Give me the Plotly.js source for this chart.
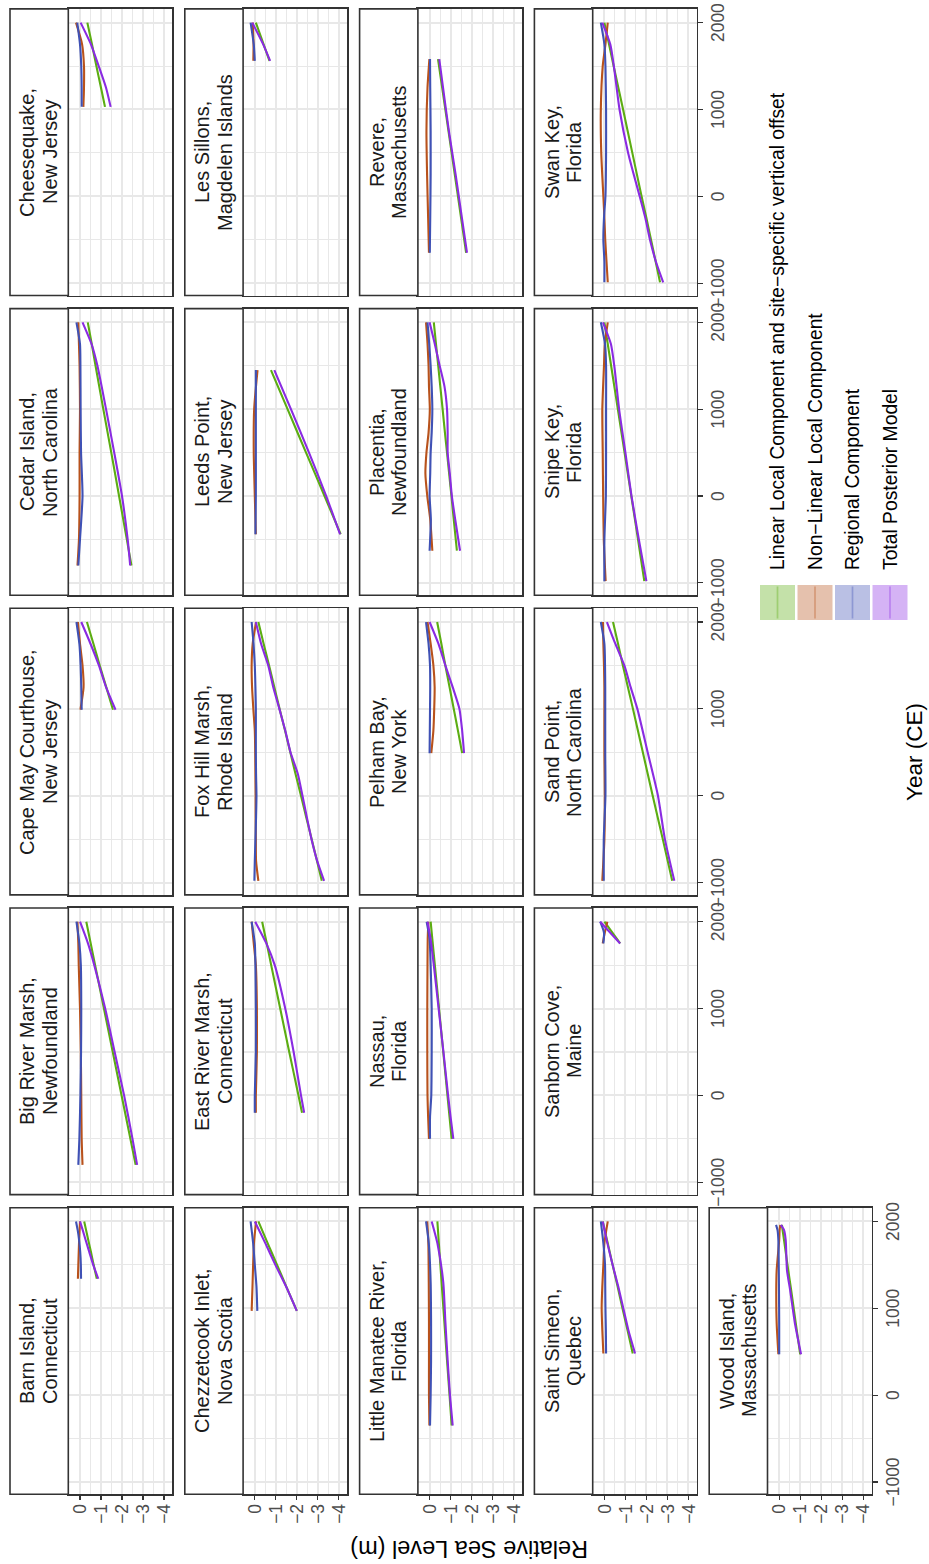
<!DOCTYPE html>
<html>
<head>
<meta charset="utf-8">
<script src="https://cdn.plot.ly/plotly-3.0.1.min.js"></script>
<style>
  html, body { margin: 0; padding: 0; background: #ffffff; overflow: hidden; width: 929px; height: 1564px; }
  /* the figure is laid out landscape and turned a quarter turn counter-clockwise */
  #wrap { position: absolute; left: 0; top: 0; width: 1564px; height: 929px;
          transform-origin: 0 0; transform: translate(0, 1564px) rotate(-90deg); }
</style>
</head>
<body>
<div id="wrap"></div>
<script>
// ---- data: one entry per site, in facet order ----
const siteNames = [
  'Barn Island, Connecticut', 'Big River Marsh, Newfoundland', 'Cape May Courthouse, New Jersey',
  'Cedar Island, North Carolina', 'Cheesequake, New Jersey', 'Chezzetcook Inlet, Nova Scotia',
  'East River Marsh, Connecticut', 'Fox Hill Marsh, Rhode Island', 'Leeds Point, New Jersey',
  'Les Sillons, Magdelen Islands', 'Little Manatee River, Florida', 'Nassau, Florida',
  'Pelham Bay, New York', 'Placentia, Newfoundland', 'Revere, Massachusetts',
  'Saint Simeon, Quebec', 'Sanborn Cove, Maine', 'Sand Point, North Carolina',
  'Snipe Key, Florida', 'Swan Key, Florida', 'Wood Island, Massachusetts'
];

const siteYears = [
  [1340, 1500, 1650, 1800, 1900, 2000],
  [-800, -500, 0, 500, 1000, 1500, 1750, 2000],
  [990, 1250, 1500, 1750, 2000],
  [-800, -500, 0, 500, 1000, 1500, 1750, 2000],
  [1030, 1250, 1500, 1750, 2000],
  [970, 1250, 1500, 1750, 2000],
  [-200, 0, 500, 1000, 1500, 1750, 2000],
  [-980, -750, -500, -250, 0, 250, 500, 750, 1000, 1250, 1500, 1750, 2000],
  [-440, 0, 500, 1000, 1450],
  [1560, 1750, 2000],
  [-350, 0, 400, 850, 1300, 1750, 2000],
  [-500, -250, 0, 500, 1000, 1500, 1800, 2000],
  [490, 750, 1000, 1250, 1500, 1750, 2000],
  [-630, -270, 0, 260, 500, 730, 1000, 1260, 1500, 1760, 2000],
  [-650, -250, 250, 750, 1250, 1580],
  [480, 750, 1000, 1250, 1500, 1750, 2000],
  [1750, 1875, 2000],
  [-980, -500, 0, 500, 1000, 1250, 1500, 1750, 2000],
  [-980, -500, 0, 500, 1000, 1500, 1750, 2000],
  [-990, -750, -500, -250, 0, 500, 1000, 1500, 1750, 2000],
  [470, 825, 1210, 1440, 1785, 1900, 1960]
];

// Linear Local Component and site-specific vertical offset (m)
const linearLocal = [
  [-0.80, -0.65, -0.52, -0.38, -0.29, -0.20],
  [-2.65, -2.40, -1.98, -1.56, -1.14, -0.72, -0.51, -0.30],
  [-1.57, -1.25, -0.94, -0.64, -0.33],
  [-2.45, -2.23, -1.86, -1.49, -1.11, -0.74, -0.56, -0.37],
  [-1.19, -1.00, -0.78, -0.57, -0.35],
  [-2.00, -1.50, -1.06, -0.61, -0.17],
  [-2.25, -2.08, -1.64, -1.21, -0.78, -0.57, -0.35],
  [-3.19, -2.96, -2.71, -2.45, -2.20, -1.94, -1.69, -1.44, -1.18, -0.93, -0.68, -0.42, -0.17],
  [-4.09, -3.32, -2.44, -1.56, -0.77],
  [-0.70, -0.42, -0.05],
  [-1.05, -0.95, -0.83, -0.70, -0.57, -0.44, -0.37],
  [-1.05, -0.95, -0.85, -0.65, -0.45, -0.25, -0.13, -0.05],
  [-1.55, -1.35, -1.15, -0.95, -0.75, -0.56, -0.36],
  [-1.30, -1.15, -1.04, -0.93, -0.83, -0.73, -0.62, -0.51, -0.41, -0.30, -0.20],
  [-1.74, -1.50, -1.20, -0.90, -0.60, -0.40],
  [-1.35, -1.10, -0.86, -0.63, -0.39, -0.16, 0.08],
  [-0.75, -0.38, 0.00],
  [-3.23, -2.78, -2.30, -1.83, -1.36, -1.12, -0.88, -0.65, -0.41],
  [-1.90, -1.60, -1.28, -0.96, -0.64, -0.32, -0.16, 0.00],
  [-2.65, -2.44, -2.22, -2.00, -1.77, -1.33, -0.89, -0.44, -0.22, 0.00],
  [-1.00, -0.79, -0.57, -0.43, -0.23, -0.16, -0.13]
];

// Non-Linear Local Component (m)
const nonLinearLocal = [
  [0.10, 0.08, 0.06, 0.04, 0.02, 0.00],
  [-0.12, -0.08, -0.06, -0.04, 0.00, 0.06, 0.08, 0.12],
  [-0.02, -0.17, -0.12, 0.00, 0.10],
  [0.12, 0.05, 0.02, 0.02, 0.00, 0.02, 0.05, 0.08],
  [-0.16, -0.19, -0.19, -0.10, 0.19],
  [0.15, 0.11, 0.08, 0.04, -0.06],
  [-0.05, -0.05, -0.10, -0.10, -0.05, 0.05, 0.15],
  [-0.17, -0.06, -0.05, -0.04, -0.04, -0.03, -0.02, 0.00, 0.07, 0.13, 0.15, 0.10, -0.06],
  [-0.05, 0.00, 0.05, 0.03, -0.13],
  [0.07, 0.06, 0.10],
  [0.01, 0.03, 0.03, 0.03, 0.04, 0.06, 0.11],
  [0.03, 0.07, 0.10, 0.11, 0.11, 0.10, 0.09, 0.06],
  [-0.08, -0.18, -0.22, -0.24, -0.18, -0.05, 0.10],
  [-0.13, -0.03, 0.11, 0.20, 0.15, 0.05, -0.01, 0.03, 0.05, 0.10, 0.17],
  [0.03, 0.07, 0.12, 0.15, 0.10, 0.01],
  [0.05, 0.10, 0.13, 0.10, 0.05, 0.00, -0.16],
  [0.08, -0.02, -0.14],
  [0.10, 0.00, -0.02, 0.00, 0.00, 0.00, 0.02, 0.05, 0.07],
  [-0.06, 0.03, 0.06, 0.08, 0.10, 0.02, -0.02, -0.16],
  [-0.16, -0.10, -0.04, 0.00, 0.05, 0.15, 0.17, 0.08, -0.05, -0.16],
  [0.04, 0.12, 0.14, 0.12, 0.00, -0.02, -0.05]
];

// Regional Component (m)
const regionalComp = [
  [-0.05, -0.04, -0.01, 0.05, 0.11, 0.19],
  [0.08, 0.03, -0.02, -0.05, -0.06, -0.04, 0.03, 0.17],
  [-0.08, -0.06, -0.03, 0.03, 0.17],
  [0.08, 0.00, -0.12, -0.05, -0.03, -0.02, 0.00, 0.17],
  [-0.08, -0.08, -0.06, 0.00, 0.13],
  [-0.12, -0.08, 0.00, 0.08, 0.20],
  [0.00, 0.00, -0.05, -0.05, -0.03, 0.00, 0.15],
  [0.02, 0.00, -0.03, -0.06, -0.08, -0.06, -0.05, -0.05, -0.05, -0.03, 0.00, 0.06, 0.15],
  [-0.03, -0.05, -0.05, -0.05, -0.05],
  [0.00, 0.05, 0.20],
  [-0.02, -0.05, -0.07, -0.07, -0.05, 0.04, 0.17],
  [-0.02, -0.02, -0.08, -0.10, -0.10, -0.05, 0.00, 0.14],
  [0.00, -0.01, -0.02, -0.03, -0.02, 0.05, 0.17],
  [0.00, -0.06, 0.00, -0.03, -0.05, -0.10, -0.13, -0.10, -0.05, 0.02, 0.10],
  [-0.01, -0.03, -0.05, -0.05, -0.03, -0.02],
  [-0.08, -0.07, -0.05, -0.04, -0.03, 0.05, 0.17],
  [0.05, 0.02, 0.20],
  [0.03, 0.03, -0.05, -0.04, -0.04, -0.04, -0.03, 0.00, 0.17],
  [0.00, 0.00, -0.07, -0.08, -0.08, -0.08, -0.03, 0.17],
  [0.00, 0.00, 0.05, 0.02, -0.05, -0.08, -0.08, -0.05, 0.00, 0.17],
  [0.00, 0.00, 0.01, 0.02, 0.04, 0.08, 0.15]
];

// Total Posterior Model (m)
const totalPosterior = [
  [-0.87, -0.63, -0.44, -0.25, -0.13, 0.00],
  [-2.72, -2.50, -2.10, -1.65, -1.20, -0.68, -0.38, 0.00],
  [-1.69, -1.24, -0.90, -0.50, -0.06],
  [-2.39, -2.27, -2.00, -1.63, -1.24, -0.83, -0.55, -0.12],
  [-1.46, -1.24, -0.89, -0.52, -0.03],
  [-2.00, -1.49, -0.98, -0.50, 0.00],
  [-2.35, -2.20, -1.85, -1.45, -0.95, -0.55, -0.02],
  [-3.30, -2.97, -2.70, -2.48, -2.27, -2.05, -1.70, -1.45, -1.17, -0.88, -0.64, -0.30, -0.05],
  [-4.06, -3.40, -2.58, -1.72, -0.93],
  [-0.73, -0.40, 0.12],
  [-1.10, -0.97, -0.86, -0.75, -0.65, -0.37, -0.10],
  [-1.13, -1.00, -0.88, -0.66, -0.43, -0.20, -0.05, 0.10],
  [-1.64, -1.55, -1.42, -1.10, -0.75, -0.42, 0.00],
  [-1.45, -1.22, -1.06, -0.96, -0.86, -0.86, -0.83, -0.71, -0.48, -0.24, 0.00],
  [-1.78, -1.54, -1.24, -0.92, -0.64, -0.46],
  [-1.46, -1.14, -0.90, -0.66, -0.39, -0.14, 0.08],
  [-0.75, -0.27, 0.20],
  [-3.33, -2.88, -2.55, -2.06, -1.57, -1.25, -0.95, -0.52, -0.12],
  [-2.00, -1.64, -1.29, -1.00, -0.70, -0.47, -0.31, 0.07],
  [-2.80, -2.45, -2.17, -1.95, -1.68, -1.13, -0.72, -0.45, -0.28, 0.10],
  [-1.04, -0.75, -0.52, -0.37, -0.31, -0.23, -0.08]
];

const seriesNames = [
  'Linear Local Component and site\u2212specific vertical offset',
  'Non\u2212Linear Local Component',
  'Regional Component',
  'Total Posterior Model'
];
const seriesColors = ['#5CAD12', '#B8521C', '#3F51B5', '#8A2BE2'];
const yearTicks = [-1000, 0, 1000, 2000];
const yearMinor = [-500, 500, 1500];
const rslTicks = [0, -1, -2, -3, -4];
const rslMinor = [-0.5, -1.5, -2.5, -3.5];

// ---- page geometry (landscape frame, pixels) ----
const W = 1564, H = 929;
const NCOL = 5;
const colX0 = 69.7, colStep = 299.7, panelW = 286.6;
const rowY0 = 10, rowStep = 174.8, stripH = 58.3, panelH = 104;
const FONT = '"Liberation Sans", Arial, Helvetica, sans-serif';
const ink = '#333333';
const gridCol = '#E8E8E8';

const seriesData = [linearLocal, nonLinearLocal, regionalComp, totalPosterior];
const nSites = siteNames.length;

function px(x) { return x / W; }
function py(y) { return 1 - y / H; }
function rgba(hex, a) {
  const n = parseInt(hex.slice(1), 16);
  return 'rgba(' + (n >> 16) + ',' + ((n >> 8) & 255) + ',' + (n & 255) + ',' + a + ')';
}

const traces = [];
const layout = {
  width: W, height: H,
  margin: { l: 0, r: 0, t: 0, b: 0 },
  paper_bgcolor: '#ffffff', plot_bgcolor: '#ffffff',
  showlegend: false,
  font: { family: FONT, color: '#000000' },
  shapes: [], annotations: []
};

for (let i = 0; i < nSites; i++) {
  const r = Math.floor(i / NCOL), c = i % NCOL;
  const n = i + 1, sx = n === 1 ? '' : String(n);
  const x0 = colX0 + c * colStep, x1 = x0 + panelW;
  const sTop = rowY0 + r * rowStep, pTop = sTop + stripH, pBot = pTop + panelH;

  // bottom-most panel of each column carries the year labels; first column carries RSL labels
  const lastInCol = (r + 1) * NCOL + c >= nSites;
  const showX = lastInCol, showY = c === 0;

  layout['xaxis' + sx] = {
    domain: [px(x0), px(x1)], range: [-1142, 2158], anchor: 'y' + sx,
    tickmode: 'array', tickvals: yearTicks, showticklabels: showX,
    ticks: showX ? 'outside' : '', ticklen: 4.5, tickwidth: 1.1, tickcolor: ink,
    tickfont: { family: FONT, size: 17.5, color: '#4D4D4D' },
    showgrid: true, gridcolor: gridCol, gridwidth: 2, zeroline: false,
    minor: { tickmode: 'array', tickvals: yearMinor, showgrid: true, gridcolor: gridCol, gridwidth: 1.1, ticks: '' },
    showline: true, mirror: true, linecolor: ink, linewidth: 1.6,
    automargin: false, fixedrange: true
  };
  layout['yaxis' + sx] = {
    domain: [py(pBot), py(pTop)], range: [-4.395, 0.557], anchor: 'x' + sx,
    tickmode: 'array', tickvals: rslTicks, showticklabels: showY,
    ticks: showY ? 'outside' : '', ticklen: 4.5, tickwidth: 1.1, tickcolor: ink,
    tickfont: { family: FONT, size: 17.5, color: '#4D4D4D' },
    showgrid: true, gridcolor: gridCol, gridwidth: 2, zeroline: false,
    minor: { tickmode: 'array', tickvals: rslMinor, showgrid: true, gridcolor: gridCol, gridwidth: 1.1, ticks: '' },
    showline: true, mirror: true, linecolor: ink, linewidth: 1.6,
    automargin: false, fixedrange: true
  };

  for (let s = 0; s < seriesData.length; s++) {
    traces.push({
      type: 'scatter', mode: 'lines',
      x: siteYears[i], y: seriesData[s][i],
      xaxis: 'x' + sx, yaxis: 'y' + sx,
      name: seriesNames[s], hoverinfo: 'skip', showlegend: false,
      line: { color: seriesColors[s], width: 2.1, shape: 'spline', smoothing: 0.6 }
    });
  }

  // facet strip
  layout.shapes.push({
    type: 'rect', xref: 'paper', yref: 'paper', layer: 'above',
    x0: px(x0), x1: px(x1), y0: py(pTop), y1: py(sTop),
    fillcolor: '#ffffff', line: { color: ink, width: 1.6 }
  });
  const cut = siteNames[i].indexOf(', ');
  const lines = [siteNames[i].slice(0, cut + 1), siteNames[i].slice(cut + 2)];
  lines.forEach((t, k) => {
    layout.annotations.push({
      xref: 'paper', yref: 'paper', x: px((x0 + x1) / 2), y: py(sTop + 17.3 + k * 22.4),
      xanchor: 'center', yanchor: 'middle', showarrow: false, text: t,
      font: { family: FONT, size: 20, color: '#1A1A1A' }
    });
  });
}

// axis titles
const plotLeft = colX0, plotRight = colX0 + (NCOL - 1) * colStep + panelW;
layout.annotations.push({
  xref: 'paper', yref: 'paper', x: px((plotLeft + plotRight) / 2), y: py(914),
  xanchor: 'center', yanchor: 'middle', showarrow: false, text: 'Year (CE)',
  font: { family: FONT, size: 22.5, color: '#000000' }
});
layout.annotations.push({
  xref: 'paper', yref: 'paper', x: px(15), y: py(469), textangle: -90,
  xanchor: 'center', yanchor: 'middle', showarrow: false, text: 'Relative Sea Level (m)',
  font: { family: FONT, size: 23.5, color: '#000000' }
});

// legend: translucent key boxes with a centre line, labels to the right
const keyX0 = 944, keyW = 35, keyY0 = 760, keyStep = 37.5;
seriesNames.forEach((name, s) => {
  const yTop = keyY0 + s * keyStep, yMid = yTop + keyW / 2;
  layout.shapes.push({
    type: 'rect', xref: 'paper', yref: 'paper', layer: 'above',
    x0: px(keyX0), x1: px(keyX0 + keyW), y0: py(yTop + keyW), y1: py(yTop),
    fillcolor: rgba(seriesColors[s], 0.36), line: { width: 0 }
  });
  layout.shapes.push({
    type: 'line', xref: 'paper', yref: 'paper', layer: 'above',
    x0: px(keyX0 + 1.5), x1: px(keyX0 + keyW - 1.5), y0: py(yMid), y1: py(yMid),
    line: { color: rgba(seriesColors[s], 0.36), width: 1.7 }
  });
  layout.annotations.push({
    xref: 'paper', yref: 'paper', x: px(992), y: py(yMid),
    xanchor: 'left', yanchor: 'middle', showarrow: false, text: name,
    font: { family: FONT, size: 19.3, color: '#000000' }
  });
});

Plotly.newPlot('wrap', traces, layout, { staticPlot: true, displayModeBar: false });
</script>
</body>
</html>
